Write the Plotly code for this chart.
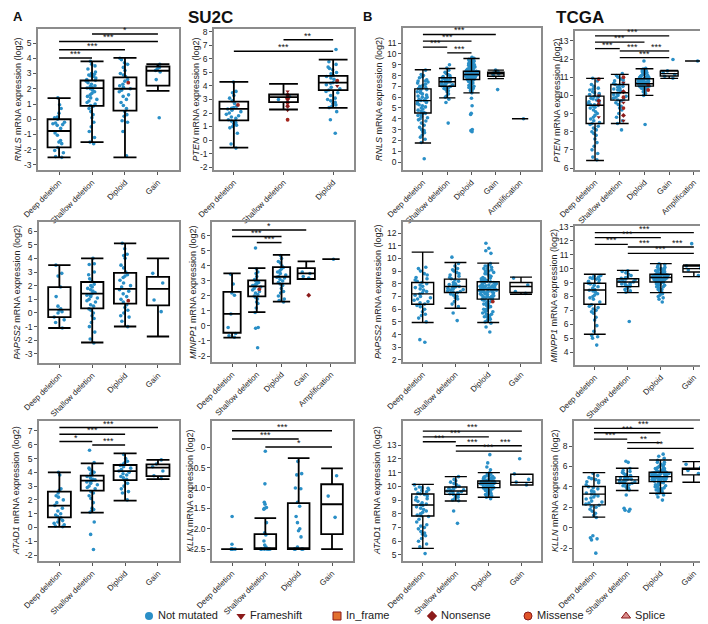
import plotly.graph_objects as go

W, H = 708, 624
PAGE_PAD = 0
FONT = "Arial, Liberation Sans, sans-serif"
BLUE = "#2a8fc7"
FRAME = "#8c8c8c"

# ---------------- categories ----------------
CATS3 = ["Deep deletion", "Shallow deletion", "Diploid"]
CATS4 = ["Deep deletion", "Shallow deletion", "Diploid", "Gain"]
CATS5 = ["Deep deletion", "Shallow deletion", "Diploid", "Gain", "Amplification"]

# ---------------- box statistics: (lower whisker, q1, median, q3, upper whisker) ----------------
RNLS_SU2C_STATS = [(-2.5, -1.85, -0.77, 0.0, 1.38), (-1.5, 0.88, 2.04, 2.54, 3.8),
                   (-2.5, 0.57, 2.0, 2.74, 4.02), (1.86, 2.2, 3.18, 3.46, 3.62)]
PTEN_SU2C_STATS = [(-0.57, 1.45, 2.3, 2.85, 4.3), (2.26, 2.8, 3.17, 3.37, 4.15),
                   (2.38, 3.69, 4.25, 4.75, 5.95)]
RNLS_TCGA_STATS = [(1.76, 4.54, 5.68, 6.77, 8.53), (5.93, 7.01, 7.42, 7.79, 8.65),
                   (6.4, 7.63, 8.1, 8.4, 9.58), (7.72, 7.94, 8.16, 8.31, 8.5), (4.0, 4.0, 4.0, 4.0, 4.0)]
PTEN_TCGA_STATS = [(6.41, 8.45, 9.46, 9.96, 10.94), (8.45, 9.74, 10.15, 10.6, 11.16),
                   (10.0, 10.51, 10.64, 10.92, 11.47), (10.94, 11.07, 11.2, 11.34, 11.38),
                   (11.9, 11.9, 11.9, 11.9, 11.9)]
PAPSS2_SU2C_STATS = [(-1.1, -0.3, 0.24, 1.9, 3.5), (-2.16, 0.34, 1.42, 2.27, 4.0),
                     (-0.99, 0.68, 1.76, 2.94, 5.1), (-1.72, 0.56, 1.76, 2.64, 4.0)]
MINPP1_SU2C_STATS = [(-0.78, -0.45, 0.81, 2.27, 3.5), (0.92, 1.98, 2.64, 3.04, 3.86),
                     (1.62, 2.82, 3.28, 3.92, 4.74), (3.13, 3.13, 3.5, 3.86, 4.3),
                     (4.45, 4.45, 4.45, 4.45, 4.45)]
PAPSS2_TCGA_STATS = [(4.95, 6.39, 7.21, 8.1, 10.5), (6.08, 7.32, 7.79, 8.37, 9.68),
                     (4.95, 6.79, 7.53, 8.16, 9.63), (7.18, 7.32, 7.79, 8.1, 8.53)]
MINPP1_TCGA_STATS = [(5.28, 7.44, 8.47, 8.95, 9.6), (8.28, 8.71, 9.04, 9.28, 9.88),
                     (8.28, 9.04, 9.36, 9.6, 10.36), (9.43, 9.76, 10.0, 10.19, 10.27)]
ATAD1_SU2C_STATS = [(0.05, 0.73, 1.58, 2.6, 4.0), (1.07, 2.67, 3.39, 3.76, 4.65),
                    (1.94, 3.44, 4.09, 4.53, 5.38), (3.51, 3.73, 4.34, 4.58, 4.9)]
KLLN_SU2C_STATS = [(-2.5, -2.5, -2.5, -2.5, -2.5), (-2.5, -2.5, -2.5, -2.13, -1.74),
                   (-2.5, -2.5, -2.5, -1.37, -0.27), (-2.5, -2.13, -1.4, -0.91, -0.52)]
ATAD1_TCGA_STATS = [(5.48, 7.84, 8.64, 9.44, 10.14), (8.93, 9.41, 9.65, 9.95, 10.7),
                    (9.2, 9.9, 10.21, 10.38, 10.99), (10.09, 10.09, 10.28, 10.87, 10.87)]
KLLN_TCGA_STATS = [(1.03, 2.23, 3.28, 4.03, 5.39), (3.64, 4.35, 4.68, 5.0, 5.82),
                   (3.37, 4.51, 5.0, 5.43, 6.63), (4.45, 5.17, 5.72, 5.82, 6.47)]

# ---------------- sample points (not mutated), one list per category ----------------
RNLS_SU2C_PTS = [
    [1.4, 0.95, 0.7, 0.4, 0.15, 0.1, 0.0, -0.2, -0.25, -0.3, -0.35, -0.4, -0.6, -0.9, -1.05, -1.4, -1.5, -1.6, -1.85, -2.05, -2.2, -2.45, -2.5],
    [3.8, 3.6, 3.5, 3.3, 3.1, 3.0, 2.95, 2.9, 2.85, 2.8, 2.7, 2.6, 2.55, 2.5, 2.4, 2.3, 2.2, 2.15, 2.1, 2.05, 2.0, 1.9, 1.8, 1.7, 1.6, 1.5, 1.4, 1.3, 1.2, 1.1, 1.0, 0.9, 0.85, 0.7, 0.5, 0.3, 0.1, -0.2, -0.5, -0.8, -1.2, -1.5, -1.6],
    [4.0, 3.9, 3.7, 3.6, 3.4, 3.2, 3.0, 2.9, 2.8, 2.6, 2.5, 2.3, 2.2, 2.1, 2.0, 1.9, 1.8, 1.6, 1.5, 1.3, 1.1, 0.9, 0.7, 0.5, 0.3, 0.2, -0.1, -0.2, -0.8, -2.4],
    [3.6, 3.5, 3.4, 3.3, 3.2, 3.1, 2.6, 0.1]]
PTEN_SU2C_PTS = [
    [4.3, 3.6, 3.5, 3.3, 3.1, 2.9, 2.7, 2.5, 2.4, 2.35, 2.3, 2.2, 2.1, 2.0, 1.9, 1.8, 1.7, 1.6, 1.5, 1.4, 1.3, 1.2, 1.1, 1.0, 0.9, 0.5, -0.3, -0.6],
    [3.2, 3.0, 2.8],
    [6.7, 5.8, 5.6, 5.4, 5.3, 5.2, 5.0, 4.9, 4.8, 4.7, 4.6, 4.5, 4.3, 4.25, 4.2, 4.1, 3.9, 3.8, 3.7, 3.6, 3.5, 3.3, 3.1, 3.0, 2.9, 2.8, 2.7, 2.6, 2.5, 2.4, 2.1, 1.5, 0.5]]
RNLS_TCGA_PTS = [
    [8.5, 8.1, 8.0, 7.9, 7.8, 7.6, 7.5, 7.5, 7.4, 7.3, 7.2, 7.1, 7.0, 6.9, 6.8, 6.8, 6.7, 6.6, 6.5, 6.4, 6.3, 6.2, 6.1, 6.0, 6.0, 5.9, 5.8, 5.7, 5.7, 5.6, 5.6, 5.5, 5.4, 5.3, 5.2, 5.1, 5.0, 4.9, 4.8, 4.7, 4.6, 4.5, 4.5, 4.4, 4.3, 4.2, 4.1, 4.0, 3.9, 3.8, 3.6, 3.4, 3.2, 3.0, 2.9, 2.8, 2.7, 2.5, 2.3, 2.1, 1.8, 0.3],
    [9.0, 8.7, 8.5, 8.3, 8.2, 8.1, 8.0, 7.9, 7.85, 7.8, 7.75, 7.7, 7.65, 7.6, 7.55, 7.5, 7.45, 7.42, 7.4, 7.35, 7.3, 7.25, 7.2, 7.15, 7.1, 7.05, 7.0, 6.95, 6.9, 6.8, 6.7, 6.6, 6.5, 6.3, 6.1, 6.0, 5.8, 5.5, 3.6],
    [9.7, 9.6, 9.5, 9.4, 9.3, 9.2, 9.1, 9.0, 8.95, 8.9, 8.85, 8.8, 8.75, 8.7, 8.65, 8.6, 8.55, 8.5, 8.48, 8.45, 8.42, 8.4, 8.38, 8.35, 8.32, 8.3, 8.28, 8.25, 8.22, 8.2, 8.18, 8.15, 8.12, 8.1, 8.08, 8.05, 8.02, 8.0, 7.98, 7.95, 7.92, 7.9, 7.85, 7.8, 7.75, 7.7, 7.68, 7.65, 7.62, 7.6, 7.55, 7.5, 7.4, 7.3, 7.2, 7.1, 7.0, 6.9, 6.8, 6.7, 6.6, 6.5, 6.4, 5.9, 5.2, 4.5, 4.4, 3.0, 2.9, 2.8,
     8.6, 8.5, 8.45, 8.4, 8.35, 8.3, 8.25, 8.2, 8.15, 8.1, 8.05, 8.0, 7.95, 7.9, 7.85, 7.8, 7.75, 7.7, 8.9, 9.2, 9.0, 8.7, 8.55, 8.33, 8.27, 8.13, 8.07, 7.97, 7.88, 7.72, 7.58, 7.45, 7.35, 7.25, 7.0, 6.95, 6.6, 9.45, 9.35, 8.42],
    [8.5, 8.4, 8.3, 8.2, 8.15, 8.0, 6.7],
    [4.0]]
PTEN_TCGA_PTS = [
    [10.95, 10.8, 10.6, 10.5, 10.4, 10.35, 10.3, 10.2, 10.15, 10.1, 10.05, 10.0, 9.95, 9.9, 9.85, 9.8, 9.75, 9.7, 9.65, 9.6, 9.55, 9.5, 9.48, 9.45, 9.4, 9.35, 9.3, 9.2, 9.1, 9.0, 8.9, 8.8, 8.7, 8.6, 8.5, 8.45, 8.4, 8.3, 8.2, 8.1, 8.0, 7.9, 7.8, 7.6, 7.4, 7.2, 7.0, 6.8, 6.6, 6.45],
    [11.2, 11.1, 11.0, 10.9, 10.85, 10.8, 10.7, 10.65, 10.6, 10.55, 10.5, 10.45, 10.4, 10.35, 10.3, 10.25, 10.2, 10.15, 10.1, 10.05, 10.0, 9.95, 9.9, 9.85, 9.8, 9.75, 9.7, 9.6, 9.5, 9.4, 9.3, 9.2, 9.0, 8.8, 8.6, 8.45, 8.1],
    [11.9, 11.5, 11.45, 11.4, 11.35, 11.3, 11.25, 11.2, 11.15, 11.1, 11.05, 11.0, 10.98, 10.95, 10.92, 10.9, 10.88, 10.85, 10.82, 10.8, 10.78, 10.75, 10.72, 10.7, 10.68, 10.65, 10.62, 10.6, 10.58, 10.55, 10.52, 10.5, 10.45, 10.4, 10.35, 10.3, 10.25, 10.2, 10.1, 10.0, 8.4,
     10.9, 10.85, 10.8, 10.75, 10.7, 10.68, 10.65, 10.62, 10.6, 10.58, 10.55, 10.5, 10.45, 10.4, 10.55, 10.6, 10.7, 10.8, 11.0, 11.1, 11.2, 11.3, 10.3, 10.2, 10.95, 10.88, 10.78, 10.66],
    [11.98, 11.35, 11.25, 11.15, 11.05, 10.95],
    [11.9]]
PAPSS2_SU2C_PTS = [
    [3.5, 2.9, 2.7, 1.9, 1.2, 0.5, 0.3, 0.2, 0.1, 0.0, -0.3, -0.5, -0.7, -1.1],
    [4.0, 3.6, 3.55, 3.0, 2.8, 2.5, 2.3, 2.1, 2.0, 1.9, 1.8, 1.7, 1.6, 1.5, 1.4, 1.35, 1.3, 1.2, 1.1, 1.0, 0.9, 0.8, 0.6, 0.5, 0.3, 0.2, 0.0, -0.2, -0.4, -0.7, -1.0, -1.4, -1.9, -2.2],
    [5.1, 4.7, 4.3, 4.2, 4.0, 3.5, 3.3, 3.0, 2.8, 2.7, 2.6, 2.4, 2.2, 2.0, 1.9, 1.7, 1.6, 1.4, 1.2, 1.0, 0.8, 0.6, 0.4, 0.2, 0.0, -0.2, -0.3, -0.6, -1.0],
    [2.9, 2.2, 0.95, 0.1]]
MINPP1_SU2C_PTS = [
    [3.45, 2.8, 2.2, 2.05, 0.8, -0.1, -0.5, -0.65, -0.75],
    [5.2, 3.8, 3.6, 3.5, 3.3, 3.1, 3.0, 2.95, 2.9, 2.8, 2.75, 2.7, 2.65, 2.6, 2.5, 2.4, 2.3, 2.2, 2.1, 2.0, 1.9, 1.8, 1.6, 1.5, 1.2, 0.9, -0.1, -0.15, -1.45],
    [4.7, 4.5, 4.3, 4.2, 4.0, 3.9, 3.8, 3.7, 3.6, 3.5, 3.4, 3.3, 3.25, 3.2, 3.1, 3.0, 2.9, 2.8, 2.7, 2.5, 2.3, 2.2, 2.0, 1.8, 1.7, 1.6],
    [3.6, 3.5, 3.3, 3.2],
    [4.45]]
PAPSS2_TCGA_PTS = [
    [9.3, 9.2, 9.0, 8.8, 8.7, 8.5, 8.4, 8.3, 8.2, 8.1, 8.0, 7.9, 7.8, 7.7, 7.6, 7.5, 7.4, 7.3, 7.2, 7.1, 7.0, 6.9, 6.8, 6.7, 6.6, 6.5, 6.4, 6.3, 6.2, 6.0, 5.8, 5.6, 5.5, 5.3, 5.0, 3.6, 3.4],
    [10.1, 9.6, 9.4, 9.2, 9.1, 9.0, 8.9, 8.8, 8.7, 8.6, 8.5, 8.4, 8.3, 8.2, 8.1, 8.0, 7.95, 7.9, 7.85, 7.8, 7.75, 7.7, 7.65, 7.6, 7.55, 7.5, 7.45, 7.4, 7.35, 7.3, 7.2, 7.1, 7.0, 6.9, 6.8, 6.6, 6.4, 6.2, 5.7, 5.1],
    [11.2, 10.8, 10.6, 10.4, 9.6, 9.5, 9.4, 9.3, 9.2, 9.1, 9.0, 8.9, 8.8, 8.7, 8.6, 8.5, 8.45, 8.4, 8.35, 8.3, 8.25, 8.2, 8.15, 8.1, 8.05, 8.0, 7.95, 7.9, 7.85, 7.8, 7.75, 7.7, 7.65, 7.6, 7.55, 7.5, 7.45, 7.4, 7.35, 7.3, 7.25, 7.2, 7.15, 7.1, 7.05, 7.0, 6.95, 6.9, 6.85, 6.8, 6.75, 6.7, 6.6, 6.5, 6.4, 6.3, 6.2, 6.1, 6.0, 5.9, 5.8, 5.7, 5.6, 5.5, 5.4, 5.3, 5.2, 5.1, 5.0, 4.9, 4.6, 4.2,
     8.1, 8.0, 7.9, 7.8, 7.7, 7.6, 7.5, 7.4, 7.3, 7.2, 7.1, 7.0, 6.9, 6.8, 8.2, 8.3, 8.4, 8.6, 8.8, 9.0, 9.2, 9.4, 6.6, 6.4, 6.2, 6.0, 5.8, 5.6, 5.4, 5.2, 7.55, 7.65, 7.75, 7.85, 7.45, 7.35],
    [8.45, 7.9, 7.4, 7.25]]
MINPP1_TCGA_PTS = [
    [9.5, 9.45, 9.4, 9.35, 9.3, 9.25, 9.2, 9.1, 9.0, 8.95, 8.9, 8.8, 8.7, 8.6, 8.5, 8.45, 8.4, 8.3, 8.2, 8.1, 8.0, 7.9, 7.8, 7.6, 7.4, 7.3, 7.2, 7.1, 7.0, 6.9, 6.8, 6.5, 6.3, 5.9, 5.5, 5.2, 5.1, 5.0, 4.5],
    [9.85, 9.8, 9.7, 9.6, 9.5, 9.4, 9.35, 9.3, 9.25, 9.2, 9.15, 9.1, 9.05, 9.0, 8.95, 8.9, 8.85, 8.8, 8.75, 8.7, 8.6, 8.5, 8.4, 8.3, 6.2],
    [10.35, 10.3, 10.2, 10.1, 10.0, 9.95, 9.9, 9.85, 9.8, 9.75, 9.7, 9.65, 9.6, 9.55, 9.5, 9.48, 9.45, 9.42, 9.4, 9.38, 9.35, 9.32, 9.3, 9.28, 9.25, 9.22, 9.2, 9.15, 9.1, 9.05, 9.0, 8.95, 8.9, 8.85, 8.8, 8.7, 8.6, 8.5, 8.4, 8.3, 8.2, 8.1, 8.0, 7.9, 7.8, 7.6,
     9.6, 9.55, 9.5, 9.45, 9.4, 9.35, 9.3, 9.25, 9.2, 9.15, 9.1, 9.05, 9.0, 9.7, 9.8, 9.9, 10.0, 10.1, 8.9, 8.8, 8.7, 8.5, 8.3, 9.33, 9.37, 9.43, 9.47, 9.52, 9.58, 9.28],
    [11.8, 10.2, 10.05, 9.9, 9.5]]
ATAD1_SU2C_PTS = [
    [4.0, 3.8, 2.8, 2.7, 2.5, 2.3, 2.2, 2.0, 1.8, 1.6, 1.4, 1.2, 1.0, 0.9, 0.8, 0.7, 0.6, 0.5, 0.4, 0.3, 0.2, 0.1, 0.05],
    [5.6, 4.7, 4.3, 4.2, 4.1, 4.0, 3.9, 3.8, 3.7, 3.6, 3.5, 3.45, 3.4, 3.35, 3.3, 3.2, 3.1, 3.0, 2.9, 2.8, 2.6, 2.5, 2.3, 2.1, 1.8, 1.4, 1.3, 1.2, 1.1, 0.4, -0.5, -1.6],
    [5.3, 5.0, 4.8, 4.7, 4.6, 4.5, 4.4, 4.3, 4.2, 4.1, 4.0, 3.9, 3.8, 3.7, 3.6, 3.5, 3.4, 3.2, 3.0, 2.8, 2.6, 2.5, 2.0],
    [4.9, 4.6, 4.4, 4.1, 3.75, 3.55]]
KLLN_SU2C_PTS = [
    [-1.7, -2.38, -2.5, -2.5, -2.5, -2.5, -2.5, -2.5],
    [-0.1, -0.9, -1.35, -1.4, -1.48, -1.5, -1.52, -1.85, -2.1, -2.15, -2.3, -2.4, -2.45, -2.48, -2.5, -2.5, -2.5, -2.5, -2.5, -2.5],
    [-0.35, -0.65, -0.68, -1.0, -1.02, -1.35, -1.45, -1.7, -1.85, -2.0, -2.05, -2.2, -2.45, -2.5, -2.5, -2.5, -2.5],
    [-0.7, -1.2, -1.72]]
ATAD1_TCGA_PTS = [
    [10.1, 9.95, 9.9, 9.85, 9.8, 9.75, 9.7, 9.6, 9.5, 9.45, 9.4, 9.3, 9.2, 9.1, 9.0, 8.9, 8.8, 8.7, 8.65, 8.6, 8.5, 8.4, 8.3, 8.2, 8.1, 8.0, 7.9, 7.85, 7.8, 7.6, 7.4, 7.2, 7.1, 7.0, 6.9, 6.7, 6.6, 6.5, 6.4, 6.2, 6.0, 5.8, 5.6, 5.1],
    [10.7, 10.5, 10.4, 10.3, 10.2, 10.1, 10.0, 9.95, 9.9, 9.85, 9.8, 9.75, 9.7, 9.65, 9.6, 9.55, 9.5, 9.45, 9.4, 9.35, 9.3, 9.2, 9.1, 9.0, 8.95, 8.2, 7.3],
    [12.3, 11.7, 11.4, 11.2, 11.0, 10.9, 10.8, 10.75, 10.7, 10.65, 10.6, 10.55, 10.5, 10.45, 10.4, 10.38, 10.35, 10.32, 10.3, 10.28, 10.25, 10.22, 10.2, 10.18, 10.15, 10.12, 10.1, 10.05, 10.0, 9.95, 9.9, 9.85, 9.8, 9.7, 9.6, 9.5, 9.4, 9.3, 9.2, 9.1,
     10.4, 10.35, 10.3, 10.25, 10.2, 10.15, 10.1, 10.05, 10.0, 9.95, 9.9, 10.5, 10.6, 10.7, 10.8, 10.9, 9.8, 9.7, 9.6, 9.5, 9.4, 10.22, 10.28, 10.33, 10.18, 10.12, 9.85, 10.45],
    [12.0, 10.9, 10.5, 10.3, 10.1]]
KLLN_TCGA_PTS = [
    [5.3, 5.1, 4.9, 4.8, 4.7, 4.6, 4.5, 4.4, 4.2, 4.0, 3.9, 3.8, 3.6, 3.5, 3.4, 3.3, 3.2, 3.1, 3.0, 2.9, 2.8, 2.6, 2.5, 2.4, 2.3, 2.2, 2.1, 2.0, 1.8, 1.6, 1.4, 1.2, 1.0, -0.8, -1.0, -1.1, -1.2, -2.5],
    [6.5, 6.4, 5.8, 5.6, 5.5, 5.4, 5.3, 5.2, 5.1, 5.0, 4.95, 4.9, 4.85, 4.8, 4.75, 4.7, 4.65, 4.6, 4.55, 4.5, 4.45, 4.4, 4.35, 4.3, 4.2, 4.1, 4.0, 3.9, 3.8, 3.7, 3.2, 1.9, 1.8, 1.7, 1.6],
    [7.2, 7.0, 6.8, 6.6, 6.4, 6.2, 6.0, 5.9, 5.8, 5.7, 5.6, 5.5, 5.45, 5.4, 5.35, 5.3, 5.25, 5.2, 5.15, 5.1, 5.05, 5.0, 4.95, 4.9, 4.85, 4.8, 4.75, 4.7, 4.65, 4.6, 4.55, 4.5, 4.4, 4.3, 4.2, 4.1, 4.0, 3.9, 3.8, 3.7, 3.6, 3.5, 3.4, 3.3, 3.2, 3.0, 2.7,
     5.4, 5.3, 5.2, 5.1, 5.0, 4.9, 4.8, 4.7, 4.6, 4.5, 5.5, 5.6, 5.8, 6.0, 6.2, 4.4, 4.2, 4.0, 3.8, 3.6, 3.4, 5.05, 4.95, 5.15, 4.85, 5.25, 4.75, 5.35, 4.65, 6.4],
    [6.2, 5.9, 5.6, 5.3]]

# ---------------- mutated samples: (category index, value, mutation type) ----------------
RNLS_SU2C_MUT = [(2, 2.4, "Missense")]
PTEN_SU2C_MUT = [(0, 2.6, "Missense"), (1, 3.6, "Frameshift"), (1, 3.35, "Nonsense"), (1, 3.2, "Frameshift"),
                 (1, 3.1, "Missense"), (1, 3.05, "Nonsense"), (1, 2.95, "Frameshift"), (1, 2.75, "Missense"),
                 (1, 2.5, "Nonsense"), (1, 2.2, "Frameshift"), (1, 1.5, "Missense"), (2, 4.4, "Missense"),
                 (2, 4.0, "Frameshift")]
PTEN_TCGA_MUT = [(0, 10.9, "Missense"), (0, 10.0, "Frameshift"), (0, 9.7, "Nonsense"), (0, 9.5, "Missense"),
                 (0, 8.8, "Frameshift"), (1, 11.0, "Missense"), (1, 10.7, "Frameshift"), (1, 10.2, "Nonsense"),
                 (1, 9.9, "Missense"), (1, 9.6, "Frameshift"), (1, 9.3, "Missense"), (1, 8.9, "Nonsense"),
                 (1, 8.6, "Frameshift"), (2, 10.3, "Missense"), (2, 10.6, "Missense")]
PAPSS2_SU2C_MUT = [(2, 0.9, "Missense")]
MINPP1_SU2C_MUT = [(1, 2.45, "Missense"), (3, 2.05, "Nonsense")]
PAPSS2_TCGA_MUT = [(2, 6.6, "Missense")]

# ---------------- significance brackets: (from category, to category, height, label) ----------------
RNLS_SU2C_SIG = [(0, 1, 4.01, "***"), (0, 2, 4.56, "***"), (0, 3, 5.1, "***"), (1, 3, 5.59, "*")]
PTEN_SU2C_SIG = [(0, 2, 6.57, "***"), (1, 2, 7.43, "**")]
RNLS_TCGA_SIG = [(0, 1, 10.63, "***"), (0, 2, 11.19, "***"), (0, 3, 11.8, "***"), (1, 2, 10.1, "***")]
PTEN_TCGA_SIG = [(0, 1, 12.58, "***"), (0, 2, 12.94, "***"), (0, 3, 13.28, "***"), (1, 2, 12.45, "***"),
                 (2, 3, 12.45, "***"), (1, 3, 12.08, "***")]
PAPSS2_SU2C_SIG = []
MINPP1_SU2C_SIG = [(0, 3, 6.4, "*"), (0, 2, 5.96, "***"), (1, 2, 5.56, "***")]
PAPSS2_TCGA_SIG = []
MINPP1_TCGA_SIG = [(0, 3, 12.59, "***"), (0, 2, 12.23, "***"), (0, 1, 11.75, "***"), (1, 2, 11.56, "***"),
                   (2, 3, 11.56, "***"), (1, 3, 11.1, "***")]
ATAD1_SU2C_SIG = [(0, 3, 7.24, "***"), (0, 2, 6.76, "***"), (0, 1, 6.23, "*"), (1, 2, 5.98, "***")]
KLLN_SU2C_SIG = [(0, 3, 0.4, "***"), (0, 2, 0.2, "***"), (1, 3, 0.0, "*")]
ATAD1_TCGA_SIG = [(0, 3, 14.02, "***"), (0, 2, 13.6, "***"), (0, 1, 13.24, "***"), (1, 2, 12.95, "***"),
                  (2, 3, 12.95, "***"), (1, 3, 12.56, "***")]
KLLN_TCGA_SIG = [(0, 3, 9.73, "***"), (0, 2, 9.3, "***"), (0, 1, 8.68, "***"), (1, 2, 8.33, "**"),
                 (1, 3, 7.77, "**")]

# ---------------- y tick values / labels ----------------
RNLS_SU2C_TICKS = [-3, -2, -1, 0, 1, 2, 3, 4, 5]
PTEN_SU2C_TICKS = [-2, -1, 0, 1, 2, 3, 4, 5, 6, 7, 8]
RNLS_TCGA_TICKS = [0, 1, 2, 3, 4, 5, 6, 7, 8, 9, 10, 11]
PTEN_TCGA_TICKS = [6, 7, 8, 9, 10, 11, 12, 13]
PAPSS2_SU2C_TICKS = [-3, -2, -1, 0, 1, 2, 3, 4, 5, 6]
MINPP1_SU2C_TICKS = [-2, -1, 0, 1, 2, 3, 4, 5, 6]
PAPSS2_TCGA_TICKS = [2, 3, 4, 5, 6, 7, 8, 9, 10, 11, 12]
MINPP1_TCGA_TICKS = [4, 5, 6, 7, 8, 9, 10, 11, 12, 13]
ATAD1_SU2C_TICKS = [-2, -1, 0, 1, 2, 3, 4, 5, 6, 7]
KLLN_SU2C_TICKS = [0, -0.5, -1.0, -1.5, -2.0, -2.5]
KLLN_SU2C_TICKTEXT = ["0", "-0.5", "-1.0", "-1.5", "-2.0", "-2.5"]
ATAD1_TCGA_TICKS = [5, 6, 7, 8, 9, 10, 11, 12, 13]
KLLN_TCGA_TICKS = [-2, 0, 2, 4, 6, 8]

# ---------------- mutation legend ----------------
LEGEND_LABELS = ["Not mutated", "Frameshift", "In_frame", "Nonsense", "Missense", "Splice"]
MUT_STYLE = {
    "Not mutated": dict(symbol="circle", color=BLUE, line=dict(width=0)),
    "Frameshift": dict(symbol="triangle-down", color="#8b1a1a", line=dict(width=0)),
    "In_frame": dict(symbol="square", color="#e2702f", line=dict(color="#8b1a1a", width=1)),
    "Nonsense": dict(symbol="diamond", color="#8b1a1a", line=dict(width=0)),
    "Missense": dict(symbol="circle", color="#e0552a", line=dict(color="#8b1a1a", width=1)),
    "Splice": dict(symbol="triangle-up", color="#d98b8b", line=dict(color="#8b1a1a", width=1)),
}
MUT_POINT_COLOR = {"Frameshift": "#8b1a1a", "Nonsense": "#8b1a1a", "Missense": "#a3261e",
                   "In_frame": "#e2702f", "Splice": "#d98b8b"}

# ---------------- panel layout (pixel frames in the 708x624 picture) ----------------
PANELS = [
    # gene, cats, stats, pts, muts, sig, frame(x0,x1,y0,y1), yrange, xrange, ticks, ticktext, title_x, width, lw
    ("RNLS", CATS4, RNLS_SU2C_STATS, RNLS_SU2C_PTS, RNLS_SU2C_MUT, RNLS_SU2C_SIG,
     (30, 171, 21, 162), (-3.33, 5.92), (-0.64, 3.64), RNLS_SU2C_TICKS, None, 9, 0.7, 1.8),
    ("PTEN", CATS3, PTEN_SU2C_STATS, PTEN_SU2C_PTS, PTEN_SU2C_MUT, PTEN_SU2C_SIG,
     (206, 346, 21, 162), (-2.22, 8.22), (-0.4, 2.42), PTEN_SU2C_TICKS, None, 187, 0.58, 1.8),
    ("RNLS", CATS5, RNLS_TCGA_STATS, RNLS_TCGA_PTS, [], RNLS_TCGA_SIG,
     (395, 533, 20, 162), (-0.74, 12.4), (-0.82, 4.86), RNLS_TCGA_TICKS, None, 371, 0.67, 1.4),
    ("PTEN", CATS5, PTEN_TCGA_STATS, PTEN_TCGA_PTS, PTEN_TCGA_MUT, PTEN_TCGA_SIG,
     (567, 703, 23, 162), (5.89, 13.55), (-0.81, 4.69), PTEN_TCGA_TICKS, None, 548, 0.72, 1.4),
    ("PAPSS2", CATS4, PAPSS2_SU2C_STATS, PAPSS2_SU2C_PTS, PAPSS2_SU2C_MUT, PAPSS2_SU2C_SIG,
     (31, 171, 214, 355), (-3.66, 6.66), (-0.62, 3.64), PAPSS2_SU2C_TICKS, None, 8, 0.68, 1.8),
    ("MINPP1", CATS5, MINPP1_SU2C_STATS, MINPP1_SU2C_PTS, MINPP1_SU2C_MUT, MINPP1_SU2C_SIG,
     (204, 346, 214, 354), (-2.4, 6.93), (-0.81, 4.93), MINPP1_SU2C_TICKS, None, 185, 0.7, 1.8),
    ("PAPSS2", CATS4, PAPSS2_TCGA_STATS, PAPSS2_TCGA_PTS, PAPSS2_TCGA_MUT, PAPSS2_TCGA_SIG,
     (395, 532, 214, 354), (1.84, 12.87), (-0.6, 3.58), PAPSS2_TCGA_TICKS, None, 370, 0.67, 1.4),
    ("MINPP1", CATS4, MINPP1_TCGA_STATS, MINPP1_TCGA_PTS, [], MINPP1_TCGA_SIG,
     (567, 705, 218, 357), (3.07, 13.07), (-0.6, 3.58), MINPP1_TCGA_TICKS, None, 545, 0.66, 1.4),
    ("ATAD1", CATS4, ATAD1_SU2C_STATS, ATAD1_SU2C_PTS, [], ATAD1_SU2C_SIG,
     (31, 171, 413, 553), (-2.43, 7.72), (-0.62, 3.64), ATAD1_SU2C_TICKS, None, 8, 0.7, 1.8),
    ("KLLN", CATS4, KLLN_SU2C_STATS, KLLN_SU2C_PTS, [], KLLN_SU2C_SIG,
     (204, 345, 413, 553), (-2.79, 0.64), (-0.6, 3.63), KLLN_SU2C_TICKS, KLLN_SU2C_TICKTEXT, 182, 0.65, 1.8),
    ("ATAD1", CATS4, ATAD1_TCGA_STATS, ATAD1_TCGA_PTS, [], ATAD1_TCGA_SIG,
     (395, 533, 413, 553), (4.56, 14.75), (-0.6, 3.58), ATAD1_TCGA_TICKS, None, 369, 0.67, 1.4),
    ("KLLN", CATS4, KLLN_TCGA_STATS, KLLN_TCGA_PTS, [], KLLN_TCGA_SIG,
     (566, 705, 413, 553), (-3.27, 10.45), (-0.6, 3.58), KLLN_TCGA_TICKS, None, 547, 0.68, 1.4),
]


def px_x(px):
    return (px - PAGE_PAD) / W


def px_y(py):
    return 1 - (py - PAGE_PAD) / H


fig = go.Figure()
layout = {}
annotations = []
shapes = []

for n, (gene, cats, stats, pts, muts, sig, frame, yr, xr, ticks, ttext, tx, bw, lw) in enumerate(PANELS, start=1):
    xa = "x" if n == 1 else f"x{n}"
    ya = "y" if n == 1 else f"y{n}"
    x0, x1, y0, y1 = frame
    common = dict(showgrid=False, zeroline=False, showline=True, mirror=True, linecolor=FRAME,
                  linewidth=1.5, ticks="outside", ticklen=3, tickcolor="#555", tickwidth=1,
                  automargin=False)
    layout["xaxis" if n == 1 else f"xaxis{n}"] = dict(
        domain=[px_x(x0), px_x(x1)], anchor=ya, type="category", range=list(xr),
        categoryorder="array", categoryarray=cats, tickangle=-45,
        tickfont=dict(size=8, color="#222", family=FONT), **common)
    layout["yaxis" if n == 1 else f"yaxis{n}"] = dict(
        domain=[px_y(y1), px_y(y0)], anchor=xa, range=list(yr),
        tickvals=ticks, ticktext=ttext if ttext else [str(t) for t in ticks],
        tickfont=dict(size=8.5, color="#222", family=FONT), **common)

    jit = 0.55 if lw > 1.5 else 0.8
    # not-mutated points
    for ci, cat in enumerate(cats):
        vals = pts[ci]
        if not vals:
            continue
        fig.add_trace(go.Box(
            x=[cat] * len(vals), y=vals, boxpoints="all", jitter=jit, pointpos=0, width=bw,
            line=dict(color="rgba(0,0,0,0)", width=0), fillcolor="rgba(0,0,0,0)",
            marker=dict(color=BLUE, size=3.6), xaxis=xa, yaxis=ya, showlegend=False,
            hoverinfo="y"))
    # mutated points
    for (ci, v, mt) in muts:
        st = MUT_STYLE[mt]
        fig.add_trace(go.Box(
            x=[cats[ci]], y=[v], boxpoints="all", jitter=jit, pointpos=0, width=bw,
            line=dict(color="rgba(0,0,0,0)", width=0), fillcolor="rgba(0,0,0,0)",
            marker=dict(color=MUT_POINT_COLOR[mt], size=3.8, symbol=st["symbol"]),
            xaxis=xa, yaxis=ya, showlegend=False, hoverinfo="y"))
    # boxes
    lo, q1, med, q3, hi = zip(*stats)
    fig.add_trace(go.Box(
        x=cats, q1=list(q1), median=list(med), q3=list(q3), lowerfence=list(lo),
        upperfence=list(hi), width=bw, whiskerwidth=1, boxpoints=False,
        line=dict(color="black", width=lw), fillcolor="rgba(0,0,0,0)",
        xaxis=xa, yaxis=ya, showlegend=False, hoverinfo="skip"))

    # significance brackets
    for (a, b, h, lab) in sig:
        shapes.append(dict(type="line", xref=xa, yref=ya, x0=a, x1=b, y0=h, y1=h,
                           line=dict(color="black", width=1.5 if lw > 1.5 else 1.3)))
        annotations.append(dict(x=(a + b) / 2, y=h, xref=xa, yref=ya, text=lab, showarrow=False,
                                yanchor="bottom", yshift=-3,
                                font=dict(size=9, color="#111", family=FONT)))

    # y-axis title
    annotations.append(dict(x=px_x(tx), y=px_y((y0 + y1) / 2), xref="paper", yref="paper",
                            text=f"<i>{gene}</i> mRNA expression (log2)", textangle=-90,
                            showarrow=False, xanchor="center", yanchor="middle",
                            font=dict(size=9, color="#222", family=FONT)))

# legend strip on its own hidden axes (pixel units of the picture)
LEGEND_X = [141, 233, 329, 424, 520, 618]
LEGEND_Y = 608
layout["xaxis13"] = dict(domain=[0, 1], range=[PAGE_PAD, W + PAGE_PAD], visible=False,
                         anchor="y13", automargin=False)
layout["yaxis13"] = dict(domain=[0, 60 / H], range=[H + PAGE_PAD, H + PAGE_PAD - 60], visible=False,
                         anchor="x13", automargin=False)
for lab, lx in zip(LEGEND_LABELS, LEGEND_X):
    st = MUT_STYLE[lab]
    fig.add_trace(go.Scatter(
        x=[lx], y=[LEGEND_Y], mode="markers+text", text=[" " + lab], textposition="middle right",
        textfont=dict(size=11, color="#222", family=FONT),
        marker=dict(symbol=st["symbol"], color=st["color"], size=8, line=st["line"]),
        xaxis="x13", yaxis="y13", showlegend=False, hoverinfo="skip", cliponaxis=False))

# panel letters and cohort titles
for txt, px, py, size in [("A", 3, 9, 13), ("B", 353, 9, 13), ("SU2C", 178, 10, 17), ("TCGA", 546, 10, 17)]:
    annotations.append(dict(x=px_x(px), y=px_y(py), xref="paper", yref="paper", text=f"<b>{txt}</b>",
                            showarrow=False, xanchor="left", yanchor="middle",
                            font=dict(size=size, color="#111", family=FONT)))

fig.update_layout(width=W, height=H, margin=dict(l=0, r=0, t=0, b=0, autoexpand=False),
                  plot_bgcolor="white", paper_bgcolor="white", showlegend=False, boxmode="overlay",
                  annotations=annotations, shapes=shapes, font=dict(family=FONT), **layout)

fig.write_html("out.html")
